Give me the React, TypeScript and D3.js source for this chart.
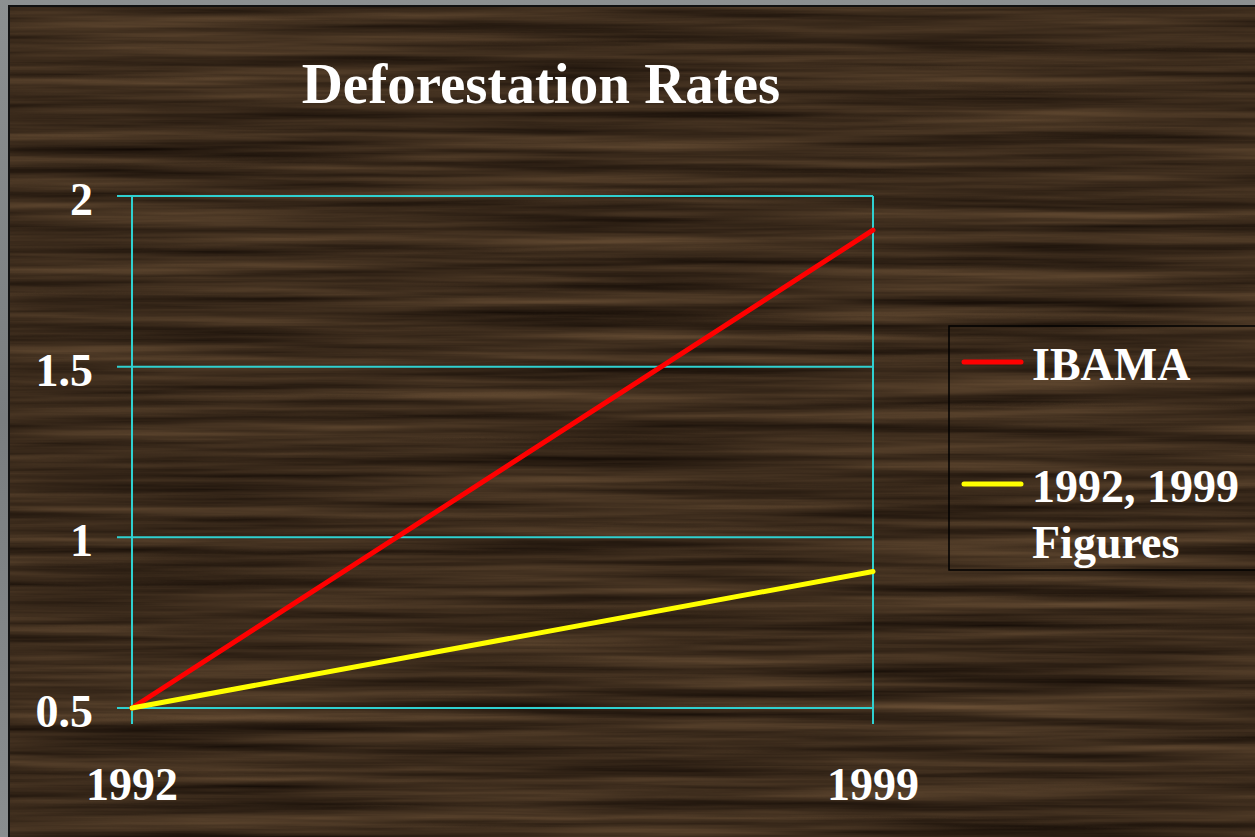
import React from "react";
import * as d3 from "d3";

const years = [1992, 1999];
const ibama = [0.5, 1.9];
const figures = [0.5, 0.9];
const yTicks = [0.5, 1, 1.5, 2];
const seriesNames = ["IBAMA", "1992, 1999 Figures"];
const seriesColors = ["#ff0000", "#ffff00"];
const title = "Deforestation Rates";

const W = 1255;
const H = 837;

export default function App() {
  const x = d3.scaleLinear().domain([1992, 1999]).range([132, 873]);
  const y = d3.scaleLinear().domain([0.5, 2]).range([708, 196]);
  const line = d3
    .line<[number, number]>()
    .x((d) => x(d[0]))
    .y((d) => y(d[1]));
  const series = [ibama, figures];
  const font = "'Liberation Serif', 'Times New Roman', serif";
  const grid = "#2fd0d0";

  return (
    <svg
      width={W}
      height={H}
      style={{ position: "absolute", left: 0, top: 0, display: "block" }}
    >
      <defs>
        <linearGradient id="gray" x1="0" y1="0" x2="0" y2="1">
          <stop offset="0" stopColor="#8c9091" />
          <stop offset="0.5" stopColor="#7a7e80" />
          <stop offset="1" stopColor="#8a8e90" />
        </linearGradient>
        <filter
          id="wood"
          x="0"
          y="0"
          width="100%"
          height="100%"
          colorInterpolationFilters="sRGB"
        >
          <feTurbulence
            type="fractalNoise"
            baseFrequency="0.0025 0.09"
            numOctaves={4}
            seed={7}
            result="n"
          />
          <feColorMatrix
            in="n"
            type="matrix"
            values="0.38 0 0 0 0.045  0.30 0 0 0 0.02  0.21 0 0 0 0.005  0 0 0 0 1"
          />
        </filter>
      </defs>
      <rect x={0} y={0} width={W} height={H} fill="url(#gray)" />
      <rect x={9} y={6} width={W} height={H} fill="#3e2c1e" />
      <rect x={9} y={6} width={W} height={H} filter="url(#wood)" />
      <rect
        x={9}
        y={6}
        width={W}
        height={H}
        fill="none"
        stroke="#111"
        strokeWidth={2}
      />

      <text
        x={541}
        y={103}
        textAnchor="middle"
        fill="#fff"
        fontFamily={font}
        fontWeight="bold"
        fontSize={57}
      >
        {title}
      </text>

      {yTicks.map((t) => (
        <line
          key={"g" + t}
          x1={117}
          x2={x(1999)}
          y1={y(t)}
          y2={y(t)}
          stroke={grid}
          strokeWidth={2}
        />
      ))}
      {years.map((yr) => (
        <line
          key={"v" + yr}
          x1={x(yr)}
          x2={x(yr)}
          y1={y(2)}
          y2={y(0.5) + 16}
          stroke={grid}
          strokeWidth={2}
        />
      ))}

      {yTicks.map((t) => (
        <text
          key={"t" + t}
          x={93}
          y={y(t) + 19}
          textAnchor="end"
          fill="#fff"
          fontFamily={font}
          fontWeight="bold"
          fontSize={46}
        >
          {t}
        </text>
      ))}
      {years.map((yr) => (
        <text
          key={"x" + yr}
          x={x(yr)}
          y={800}
          textAnchor="middle"
          fill="#fff"
          fontFamily={font}
          fontWeight="bold"
          fontSize={46}
        >
          {yr}
        </text>
      ))}

      {series.map((s, i) => (
        <path
          key={"s" + i}
          d={line(years.map((yr, j) => [yr, s[j]] as [number, number])) || ""}
          fill="none"
          stroke={seriesColors[i]}
          strokeWidth={5}
          strokeLinecap="round"
        />
      ))}

      <rect
        x={949}
        y={326}
        width={330}
        height={244}
        fill="none"
        stroke="#000"
        strokeWidth={1.5}
      />
      <line x1={964} x2={1021} y1={362} y2={362} stroke={seriesColors[0]} strokeWidth={5} strokeLinecap="round" />
      <text x={1032} y={380} fill="#fff" fontFamily={font} fontWeight="bold" fontSize={46}>
        {seriesNames[0]}
      </text>
      <line x1={964} x2={1021} y1={484} y2={484} stroke={seriesColors[1]} strokeWidth={5} strokeLinecap="round" />
      <text x={1032} y={502} fill="#fff" fontFamily={font} fontWeight="bold" fontSize={46}>
        <tspan x={1032}>1992, 1999</tspan>
        <tspan x={1032} y={558}>Figures</tspan>
      </text>
    </svg>
  );
}
